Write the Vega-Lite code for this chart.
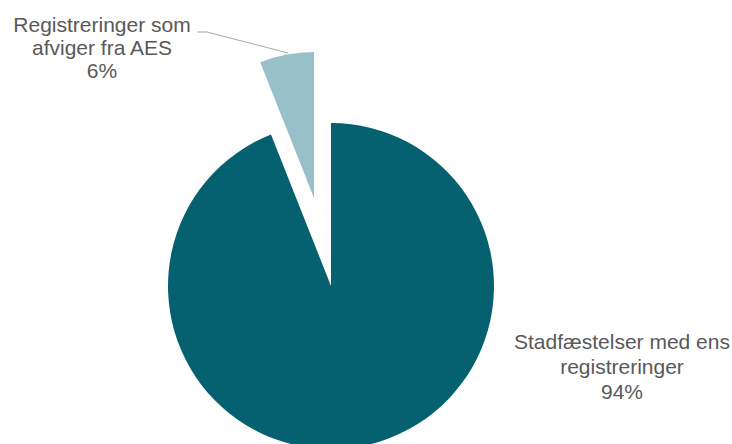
{
  "$schema": "https://vega.github.io/schema/vega-lite/v6.json",
  "width": 662,
  "height": 316,
  "autosize": {"type": "none"},
  "padding": {"left": 0, "top": 128, "right": 70, "bottom": 0},
  "background": "white",
  "view": {"stroke": null},
  "data": {
    "values": [
      {"idx": 1, "kategori": "Stadfæstelser med ens registreringer", "andel": 94},
      {"idx": 2, "kategori": "Registreringer som afviger fra AES", "andel": 6}
    ]
  },
  "layer": [
    {
      "mark": {"type": "arc", "radius": 163},
      "encoding": {
        "theta": {"field": "andel", "type": "quantitative", "stack": true},
        "order": {"field": "idx", "type": "quantitative"},
        "color": {"field": "kategori", "type": "nominal", "legend": null,
          "scale": {"domain": ["Stadfæstelser med ens registreringer", "Registreringer som afviger fra AES"], "range": ["#05606f", "#98c0c8"]}},
        "opacity": {"condition": {"test": "datum.idx == 1", "value": 1}, "value": 0}
      }
    },
    {
      "mark": {"type": "arc", "radius": 146, "xOffset": -17, "yOffset": -88},
      "encoding": {
        "theta": {"field": "andel", "type": "quantitative", "stack": true},
        "order": {"field": "idx", "type": "quantitative"},
        "color": {"field": "kategori", "type": "nominal", "legend": null},
        "opacity": {"condition": {"test": "datum.idx == 2", "value": 1}, "value": 0}
      }
    },
    {
      "transform": [{"filter": "datum.idx == 2"}],
      "mark": {"type": "rule", "color": "#a6a6a6", "strokeWidth": 1},
      "encoding": {
        "x": {"value": {"expr": "width/2 - 134"}},
        "y": {"value": {"expr": "height/2 - 254"}},
        "x2": {"value": {"expr": "width/2 - 124"}},
        "y2": {"value": {"expr": "height/2 - 254"}}
      }
    },
    {
      "transform": [{"filter": "datum.idx == 2"}],
      "mark": {"type": "rule", "color": "#a6a6a6", "strokeWidth": 1},
      "encoding": {
        "x": {"value": {"expr": "width/2 - 124"}},
        "y": {"value": {"expr": "height/2 - 254"}},
        "x2": {"value": {"expr": "width/2 - 43"}},
        "y2": {"value": {"expr": "height/2 - 233"}}
      }
    },
    {
      "transform": [{"filter": "datum.idx == 2"}],
      "mark": {"type": "text", "align": "center", "baseline": "middle", "font": "Liberation Sans", "fontSize": 21, "lineHeight": 23, "color": "#595959", "dx": -229, "dy": -260},
      "encoding": {
        "text": {"value": ["Registreringer som", "afviger fra AES", "6%"]}
      }
    },
    {
      "transform": [{"filter": "datum.idx == 1"}],
      "mark": {"type": "text", "align": "center", "baseline": "middle", "font": "Liberation Sans", "fontSize": 21, "lineHeight": 25, "color": "#595959", "dx": 291, "dy": 57},
      "encoding": {
        "text": {"value": ["Stadfæstelser med ens", "registreringer", "94%"]}
      }
    }
  ]
}
